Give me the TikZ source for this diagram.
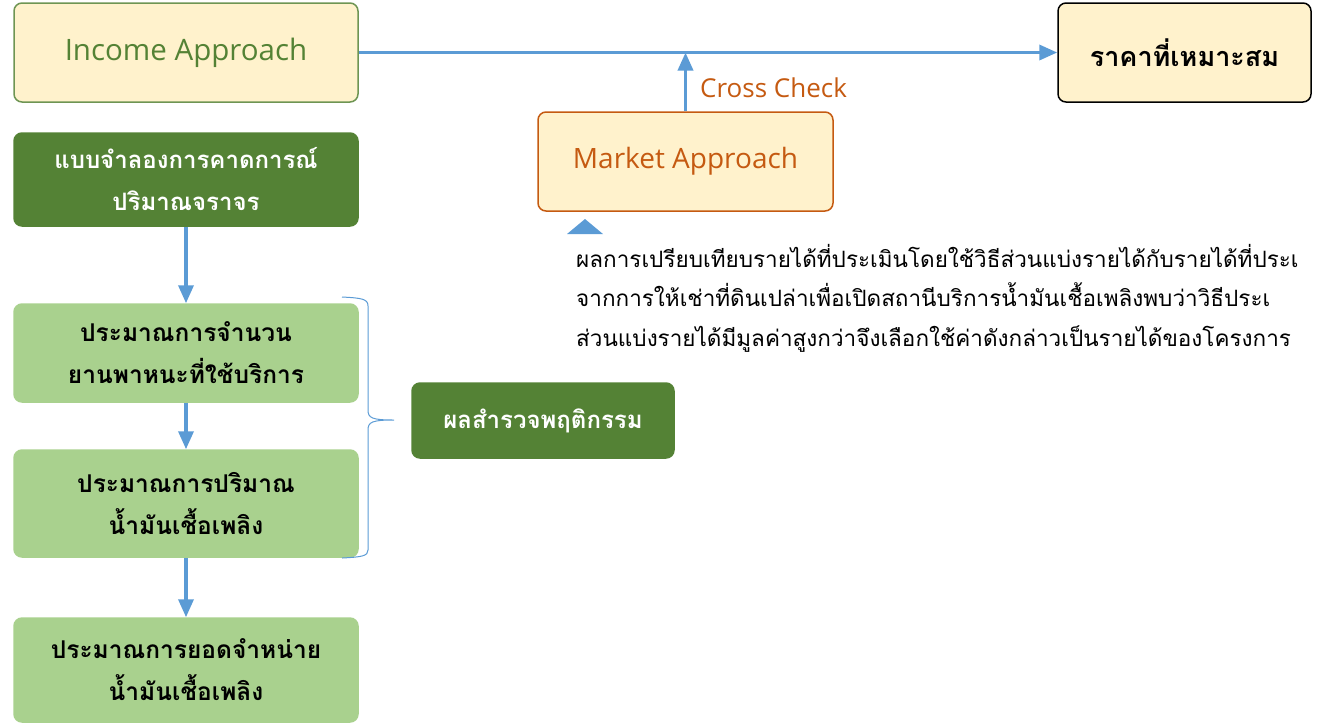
\documentclass[tikz,border=0pt]{standalone}
\usepackage{fontspec}
\setmainfont{Open Sans}
\newfontfamily\thai[Script=Thai]{Loma}
\usetikzlibrary{arrows.meta}
\definecolor{cream}{HTML}{FFF2CC}
\definecolor{dgreen}{HTML}{548235}
\definecolor{lgreen}{HTML}{A9D18E}
\definecolor{orng}{HTML}{C55A11}
\definecolor{blu}{HTML}{5B9BD5}
\tikzset{
  box/.style={rounded corners=8pt, align=center, inner sep=0pt, line width=1.5pt},
  darkbox/.style={box, fill=dgreen, draw=dgreen, text=white, font=\thai\bfseries\fontsize{24}{42}\selectfont},
  lightbox/.style={box, fill=lgreen, draw=lgreen, text=black, font=\thai\bfseries\fontsize{24.5}{42}\selectfont},
  conn/.style={draw=blu, line width=3.5pt, -{Triangle[length=18pt,width=15pt]}},
}
\begin{document}
\begin{tikzpicture}[x=1pt,y=-1pt]
\useasboundingbox (0,0) rectangle (1321,724);
\clip (0,0) rectangle (1321,724);
\node[box, fill=cream, draw=dgreen!85!white, text=dgreen, minimum width=344pt, minimum height=99pt, font=\fontsize{29.5}{34}\selectfont] (inc) at (186,52.5) {Income Approach};
\node[darkbox, minimum width=344pt, minimum height=93pt] (model) at (186,179.5) {แบบจำลองการคาดการณ์\\ปริมาณจราจร};
\node[lightbox, minimum width=344pt, minimum height=98pt] (b1) at (186,353) {ประมาณการจำนวน\\ยานพาหนะที่ใช้บริการ};
\node[lightbox, minimum width=344pt, minimum height=107pt] (b2) at (186,503.5) {ประมาณการปริมาณ\\น้ำมันเชื้อเพลิง};
\node[lightbox, minimum width=344pt, minimum height=104pt] (b3) at (186,670) {ประมาณการยอดจำหน่าย\\น้ำมันเชื้อเพลิง};
\node[darkbox, minimum width=262pt, minimum height=75pt] (survey) at (543,420.5) {ผลสำรวจพฤติกรรม};
\node[box, fill=cream, draw=orng, text=orng, minimum width=295pt, minimum height=99pt, font=\fontsize{28}{32}\selectfont] (mkt) at (685.5,161.5) {Market Approach};
\node[box, fill=cream, draw=black, text=black, minimum width=253pt, minimum height=99pt, font=\thai\bfseries\fontsize{27}{32}\selectfont] (price) at (1184.5,52.5) {ราคาที่เหมาะสม};
\node[anchor=west, text=orng, inner sep=0pt, font=\fontsize{26}{30}\selectfont] (cc) at (700,88) {Cross Check};
\draw[conn] (inc.east) -- (price.west);
\draw[conn] (mkt.north) -- (mkt.north |- inc.east);
\draw[conn] (model.south) -- (b1.north);
\draw[conn] (b1.south) -- (b2.north);
\draw[conn] (b2.south) -- (b3.north);
% brace
\coordinate (brtip) at (394,420);
\draw[blu, line width=1pt] (342,297) .. controls (362,298) and (368,299) .. (368,306) -- (368,410) .. controls (368,418) and (372,420) .. (brtip) .. controls (372,420) and (368,422) .. (368,430) -- (368,550) .. controls (368,556) and (362,557) .. (342,558);
% small triangle
\fill[blu] (567,234) -- (585,219) -- (603,234) -- cycle;
% paragraph
\node[anchor=north west, inner sep=0pt, align=left, font=\thai\fontsize{22.5}{39.5}\selectfont] (para) at (576,244) {ผลการเปรียบเทียบรายได้ที่ประเมินโดยใช้วิธีส่วนแบ่งรายได้กับรายได้ที่ประเ\\จากการให้เช่าที่ดินเปล่าเพื่อเปิดสถานีบริการน้ำมันเชื้อเพลิงพบว่าวิธีประเ\\ส่วนแบ่งรายได้มีมูลค่าสูงกว่าจึงเลือกใช้ค่าดังกล่าวเป็นรายได้ของโครงการ};
\end{tikzpicture}
\end{document}
